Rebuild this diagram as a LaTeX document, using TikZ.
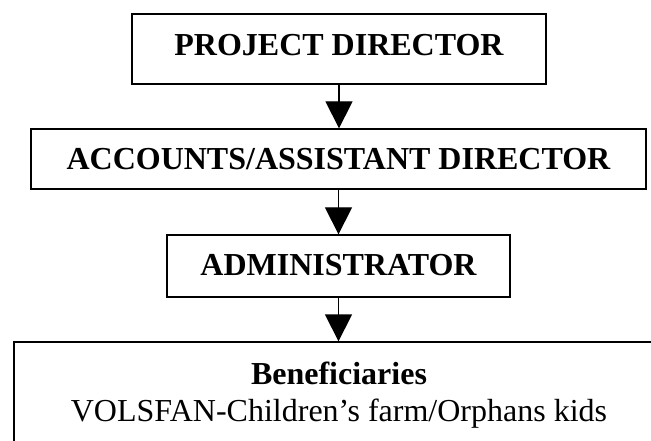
\documentclass[tikz,border=0pt]{standalone}
\usepackage{fontspec}
\setmainfont{Liberation Serif}
\usetikzlibrary{arrows.meta,positioning}

\tikzset{
  frame/.style={draw, line width=1.3pt, rectangle, inner sep=0pt,
    font=\fontsize{32}{37}\selectfont},
  post/.style={frame, font=\fontsize{32}{37}\selectfont\bfseries,
    text height=22pt, text depth=0pt},
  flow/.style={line width=1.3pt, -{Triangle[width=27pt,length=27pt]}},
}

\begin{document}
\begin{tikzpicture}[x=1pt,y=1pt]
  \useasboundingbox (0,0) rectangle (651,-441);
  \clip (0,0) rectangle (651,-441);
  % chain of posts
  \node[post, minimum width=414pt, minimum height=70pt, text depth=9pt] (director) at (339,-49) {PROJECT DIRECTOR};
  \node[post, minimum width=615pt, minimum height=60pt] (accounts) at (338.5,-159) {ACCOUNTS/ASSISTANT DIRECTOR};
  \node[post, minimum width=343pt, minimum height=62pt, text depth=4pt] (admin) at (338.5,-266) {ADMINISTRATOR};
  \node[frame, minimum width=650pt, minimum height=106pt, align=center] (benef) at (339,-395)
    {\textbf{Beneficiaries}\\VOLSFAN-Children’s farm/Orphans kids};
  % arrows
  \draw[flow] (director.south) -- (director.south |- accounts.north);
  \draw[flow] (accounts.south) -- (accounts.south |- admin.north);
  \draw[flow] (admin.south) -- (admin.south |- benef.north);
\end{tikzpicture}
\end{document}
